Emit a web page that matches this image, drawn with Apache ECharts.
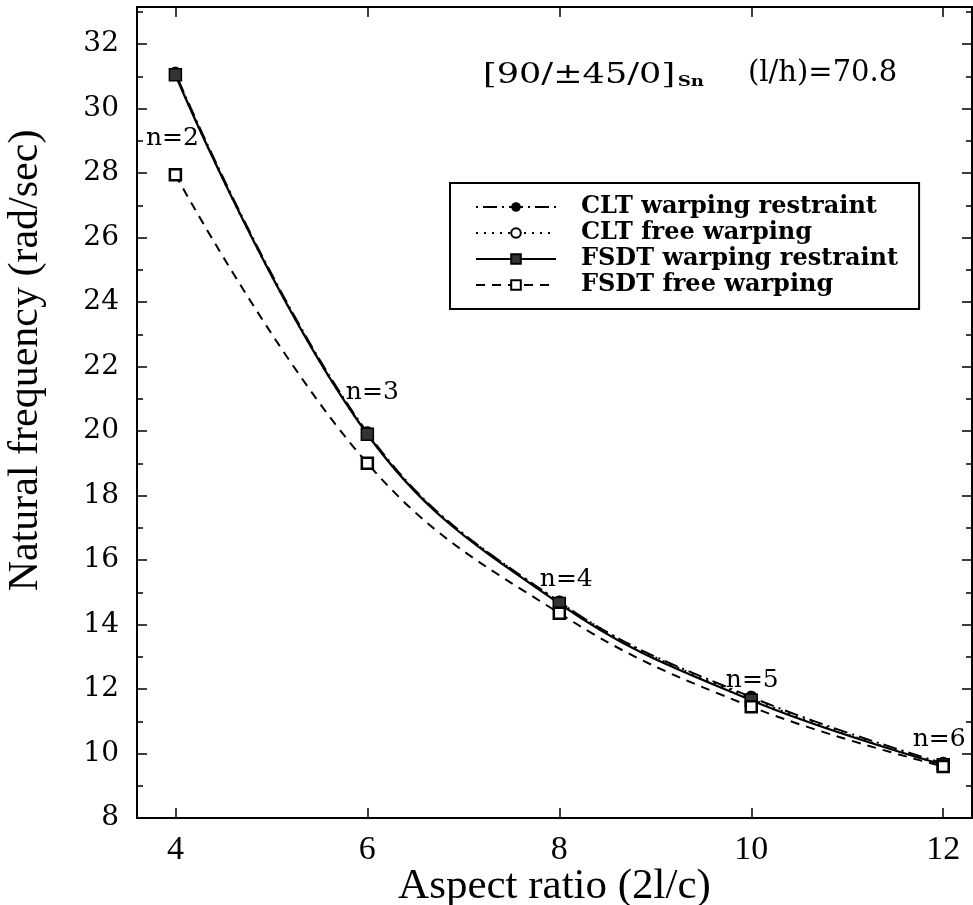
<!DOCTYPE html>
<html>
<head>
<meta charset="utf-8">
<script src="https://cdn.jsdelivr.net/npm/echarts@6/dist/echarts.min.js"></script>
<style>
html,body{margin:0;padding:0;background:#fff;}
#chart{width:973px;height:905px;}
</style>
</head>
<body>
<div id="chart"></div>
<script>
// ---- data ----
const xValues = [4, 6, 8, 10, 12];
const cltRestraint = [31.1, 19.95, 14.7, 11.75, 9.7];
const cltFree = [31.05, 19.9, 14.7, 11.7, 9.65];
const fsdtRestraint = [31.05, 19.9, 14.65, 11.65, 9.65];
const fsdtFree = [27.95, 19.0, 14.35, 11.45, 9.6];
const nLabels = ['n=2', 'n=3', 'n=4', 'n=5', 'n=6'];
const xTickValues = [4, 6, 8, 10, 12];
const seriesNames = ['CLT warping restraint', 'CLT free warping', 'FSDT warping restraint', 'FSDT free warping'];

// label offsets (style only)
const nLabelOffsets = [[-3, 64], [5, -42], [7, -24], [1, -20], [-4, -25]];

const pairs = ys => xValues.map((x, i) => [x, ys[i]]);

const chart = echarts.init(document.getElementById('chart'), null, {renderer: 'canvas'});

const serifWide = 'DejaVu Serif';
const serifNarrow = 'Liberation Serif';

const option = {
  backgroundColor: '#fff',
  animation: false,
  grid: {left: 137, right: 1, top: 7, bottom: 87, show: true, borderColor: '#000', borderWidth: 2,
    containLabel: false, outerBoundsMode: 'none'},
  legend: {
    left: 450, top: 183,
    orient: 'vertical',
    data: seriesNames,
    itemWidth: 80, itemHeight: 12, itemGap: 2,
    padding: [12, 21, 12, 25],
    borderColor: '#000', borderWidth: 2,
    backgroundColor: '#fff',
    textStyle: {fontFamily: serifWide, fontSize: 24, fontWeight: 'bold', color: '#000', lineHeight: 24, padding: [0, 0, 0, 20]},
    selectedMode: false
  },
  xAxis: [{
    type: 'value', min: 3.6, max: 12.3,
    name: 'Aspect ratio (2l/c)', nameLocation: 'middle', nameGap: 47, nameMoveOverlap: false,
    nameTextStyle: {fontFamily: serifNarrow, fontSize: 43, color: '#000'},
    axisLine: {show: true, lineStyle: {color: '#000', width: 2}},
    axisTick: {show: true, inside: true, length: 10, customValues: xTickValues, lineStyle: {color: '#000', width: 1.5}},
    axisLabel: {customValues: xTickValues, margin: 15, fontFamily: serifNarrow, fontSize: 34, color: '#000'},
    splitLine: {show: false}
  }, {
    type: 'value', min: 3.6, max: 12.3, position: 'top',
    axisLine: {show: true, lineStyle: {color: '#000', width: 2}},
    axisTick: {show: true, inside: true, length: 10, customValues: xTickValues, lineStyle: {color: '#000', width: 1.5}},
    axisLabel: {show: false},
    splitLine: {show: false}
  }],
  yAxis: [{
    type: 'value', min: 8, max: 33.15, interval: 2,
    name: 'Natural frequency (rad/sec)', nameLocation: 'middle', nameGap: 90, nameMoveOverlap: false,
    nameTextStyle: {fontFamily: serifNarrow, fontSize: 42, color: '#000', padding: [0, 0, 0, 104]},
    axisLine: {show: true, lineStyle: {color: '#000', width: 2}},
    axisTick: {show: true, inside: true, length: 10, lineStyle: {color: '#000', width: 1.5}},
    minorTick: {show: true, splitNumber: 2, length: 6, lineStyle: {color: '#000', width: 1.5}},
    axisLabel: {margin: 18, fontFamily: serifWide, fontSize: 28, color: '#000',
      formatter: v => (Math.abs(v % 2) < 1e-9 && v <= 32) ? String(v) : ''},
    splitLine: {show: false}
  }, {
    type: 'value', min: 8, max: 33.15, interval: 2, position: 'right',
    axisLine: {show: true, lineStyle: {color: '#000', width: 2}},
    axisTick: {show: true, inside: true, length: 10, lineStyle: {color: '#000', width: 1.5}},
    minorTick: {show: true, splitNumber: 2, length: 6, lineStyle: {color: '#000', width: 1.5}},
    axisLabel: {show: false},
    splitLine: {show: false}
  }],
  graphic: [{
    type: 'text', x: 483, y: 57, scaleX: 1.3, originX: 0, z: 100,
    style: {
      text: '{a|[90/±45/0]}{s|Sn}',
      x: 0, y: 0, align: 'left', verticalAlign: 'top',
      rich: {
        a: {fontFamily: serifWide, fontSize: 27, fill: '#000', verticalAlign: 'bottom', lineHeight: 32},
        s: {fontFamily: serifWide, fontSize: 14, fontWeight: 'bold', fill: '#000', verticalAlign: 'bottom', lineHeight: 24, padding: [0, 0, 0, 2]}
      }
    }
  }, {
    type: 'text', x: 748, y: 57, z: 100,
    style: {
      text: '(l/h)=70.8', x: 0, y: 0, align: 'left', verticalAlign: 'top',
      fontFamily: serifWide, fontSize: 29, fill: '#000', lineHeight: 32
    }
  }],
  series: [
    {
      name: seriesNames[0], type: 'line', smooth: 0.4, data: pairs(cltRestraint),
      symbol: 'circle', symbolSize: 12,
      itemStyle: {color: '#000', borderColor: '#000'},
      lineStyle: {color: '#000', width: 2, type: [2, 5, 14, 5]}, z: 2
    },
    {
      name: seriesNames[1], type: 'line', smooth: 0.4, data: pairs(cltFree),
      symbol: 'circle', symbolSize: 10,
      itemStyle: {color: '#fff', borderColor: '#000', borderWidth: 2.5},
      lineStyle: {color: '#000', width: 2, type: [2, 6]}, z: 3
    },
    {
      name: seriesNames[2], type: 'line', smooth: 0.4,
      data: pairs(fsdtRestraint).map((p, i) => ({
        value: p,
        label: {show: true, formatter: nLabels[i], position: 'inside', offset: nLabelOffsets[i],
          fontFamily: serifWide, fontSize: 25, color: '#000'}
      })),
      symbol: 'rect', symbolSize: 12,
      itemStyle: {color: '#333', borderColor: '#000', borderWidth: 1.5},
      lineStyle: {color: '#000', width: 2.2, type: 'solid'}, z: 4
    },
    {
      name: seriesNames[3], type: 'line', smooth: 0.4, data: pairs(fsdtFree),
      symbol: 'rect', symbolSize: 11,
      itemStyle: {color: '#fff', borderColor: '#000', borderWidth: 2.5},
      lineStyle: {color: '#000', width: 2, type: [9, 7]}, z: 4
    }
  ]
};
chart.setOption(option);
</script>
</body>
</html>
